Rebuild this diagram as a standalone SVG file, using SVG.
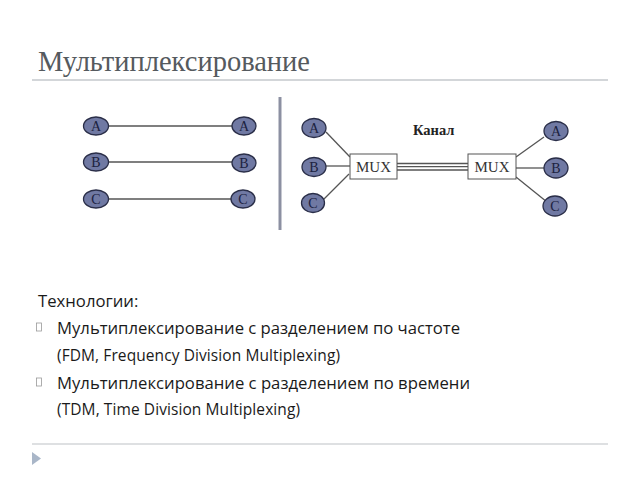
<svg xmlns="http://www.w3.org/2000/svg" width="640" height="480" viewBox="0 0 640 480">
<style>
.title{font-family:"Liberation Serif",serif;font-size:28.5px;fill:#555a5e}
.body{font-family:"Open Sans","Liberation Sans",sans-serif;font-size:16.7px;fill:#1a1a1a}
.small{font-family:"Open Sans","Liberation Sans",sans-serif;font-size:15.5px;fill:#1a1a1a}
.node ellipse{fill:#7079a3;stroke:#2a2e48;stroke-width:1.3}
.node text{font-family:"Liberation Serif",serif;font-size:14px;fill:#1c2240;text-anchor:middle}
.mux rect{fill:#fff;stroke:#555;stroke-width:1}
.mux text{font-family:"Liberation Serif",serif;font-size:15px;fill:#333;text-anchor:middle}
.conn line{stroke:#555;stroke-width:1.3}
.bul{fill:none;stroke:#999;stroke-width:0.8}
</style>
<rect width="640" height="480" fill="#fff"/>
<text class="title" x="38" y="71">Мультиплексирование</text>
<line x1="32" y1="80" x2="608" y2="80" stroke="#d3d6d9" stroke-width="2"/>
<line x1="32" y1="444" x2="608" y2="444" stroke="#d3d6d9" stroke-width="1.5"/>
<polygon points="32,452 41,458.5 32,465" fill="#a9b6c8"/>
<line x1="280" y1="97" x2="280" y2="230" stroke="#8c90a2" stroke-width="3"/>
<g id="connectors" class="conn">
<line x1="108" y1="126" x2="232" y2="126"/>
<line x1="108" y1="162" x2="232" y2="162"/>
<line x1="108" y1="199" x2="232" y2="199"/>
<line x1="326" y1="132" x2="350" y2="157"/>
<line x1="326" y1="166" x2="350" y2="166"/>
<line x1="323" y1="200" x2="349" y2="174"/>
<line x1="516" y1="157" x2="544" y2="137"/>
<line x1="516" y1="168" x2="544" y2="168"/>
<line x1="516" y1="177" x2="547" y2="202"/>
<g stroke="#777" stroke-width="1.2">
<line x1="397" y1="163.5" x2="468" y2="163.5"/>
<line x1="397" y1="166.7" x2="468" y2="166.7"/>
<line x1="397" y1="170" x2="468" y2="170"/>
</g>
</g>
<g id="l-a1" class="node"><ellipse cx="96" cy="126" rx="12.5" ry="9"/><text x="96" y="131">A</text></g>
<g id="l-b1" class="node"><ellipse cx="96" cy="162" rx="12.5" ry="9"/><text x="96" y="167">B</text></g>
<g id="l-c1" class="node"><ellipse cx="96" cy="199" rx="12.5" ry="9"/><text x="96" y="204">C</text></g>
<g id="l-a2" class="node"><ellipse cx="244" cy="126" rx="12" ry="9"/><text x="244" y="131">A</text></g>
<g id="l-b2" class="node"><ellipse cx="244" cy="163" rx="12" ry="9"/><text x="244" y="168">B</text></g>
<g id="l-c2" class="node"><ellipse cx="243" cy="199" rx="12" ry="9"/><text x="243" y="204">C</text></g>
<g id="r-a1" class="node"><ellipse cx="314" cy="128" rx="12" ry="9.5"/><text x="314" y="133">A</text></g>
<g id="r-b1" class="node"><ellipse cx="314" cy="167" rx="12" ry="9.5"/><text x="314" y="172">B</text></g>
<g id="r-c1" class="node"><ellipse cx="313" cy="203" rx="11.5" ry="9.5"/><text x="313" y="208">C</text></g>
<g id="mux1" class="mux"><rect x="350" y="154" width="47" height="25"/><text x="373.5" y="172">MUX</text></g>
<g id="mux2" class="mux"><rect x="468" y="154" width="48" height="25"/><text x="492" y="172">MUX</text></g>
<g id="r-a2" class="node"><ellipse cx="556" cy="131" rx="12" ry="9.5"/><text x="556" y="136">A</text></g>
<g id="r-b2" class="node"><ellipse cx="556" cy="168" rx="12" ry="10"/><text x="556" y="173">B</text></g>
<g id="r-c2" class="node"><ellipse cx="555" cy="206" rx="12" ry="10"/><text x="555" y="211">C</text></g>
<text x="413" y="135" font-family="Liberation Serif,serif" font-weight="bold" font-size="14.5" fill="#222">Канал</text>
<text class="body" x="38" y="307">Технологии:</text>
<rect class="bul" x="36.5" y="323" width="5" height="8"/>
<text class="body" x="57" y="334" textLength="403">Мультиплексирование с разделением по частоте</text>
<text class="small" x="57" y="361" textLength="283">(FDM, Frequency Division Multiplexing)</text>
<rect class="bul" x="36.5" y="378" width="5" height="8"/>
<text class="body" x="57" y="389" textLength="413">Мультиплексирование с разделением по времени</text>
<text class="small" x="57" y="415" textLength="243">(TDM, Time Division Multiplexing)</text>
</svg>
